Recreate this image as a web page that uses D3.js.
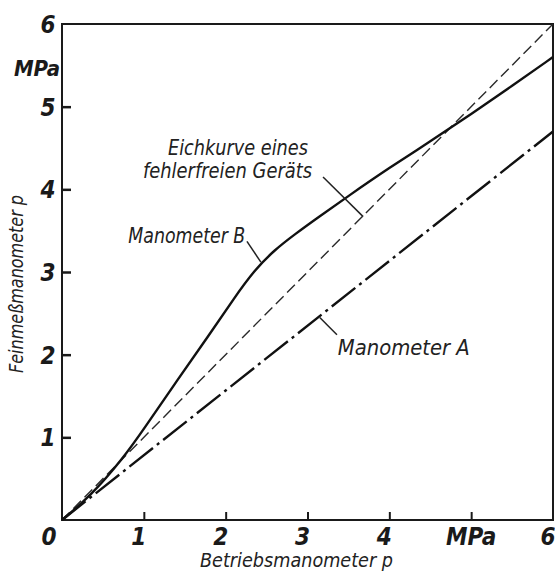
<!DOCTYPE html>
<html>
<head>
<meta charset="utf-8">
<script src="https://cdn.jsdelivr.net/npm/d3@7"></script>
<style>
  body { margin: 0; background: #ffffff; }
  svg { display: block; }
  .tick-label { font-family: "Liberation Sans Narrow", "DejaVu Sans Condensed", sans-serif; font-weight: bold; font-style: italic; fill: #1a1a1a; }
  .note { font-family: "Liberation Sans Narrow", "DejaVu Sans Condensed", sans-serif; font-style: italic; fill: #222222; }
</style>
</head>
<body>
<div id="chart"></div>
<script>

// Betriebsmanometer p (x) -> Feinmessmanometer p (y), MPa
var xTicks = [0, 1, 2, 3, 4, 5, 6];
var xTickLabels = ["0", "1", "2", "3", "4", "MPa", "6"];
var yTicks = [1, 2, 3, 4, 5, 6];
var yTickLabels = ["1", "2", "3", "4", "5", "6"];

var betriebB = [0, 0.35, 0.75, 1.0, 1.4, 1.8, 2.1, 2.35, 2.6, 2.85, 3.1, 3.5, 4.0, 4.5, 5.0, 5.5, 6.0];
var manometerB = [0, 0.29, 0.75, 1.1, 1.68, 2.24, 2.68, 3.02, 3.27, 3.46, 3.64, 3.92, 4.26, 4.58, 4.91, 5.25, 5.6];

var betriebA = [0, 6];
var manometerA = [0, 4.7];

var betriebIdeal = [0, 6];
var eichkurve = [0, 6];

var width = 555, height = 574;

// scales: plot box from the axis frame of the drawing
var xScale = d3.scaleLinear()
                .domain([0, 6])
                .range([62, 553]);
var yScale = d3.scaleLinear()
                .domain([0, 6])
                .range([520, 24]);  // y flipped

var svg = d3.select("#chart")
    .append("svg")
    .attr("width", width)
    .attr("height", height);

// frame
svg.append("rect")
    .attr("x", xScale(0))
    .attr("y", yScale(6))
    .attr("width", xScale(6) - xScale(0))
    .attr("height", yScale(0) - yScale(6))
    .attr("fill", "none")
    .attr("stroke", "#1a1a1a")
    .attr("stroke-width", 2);

// x ticks point inward
var xAxis = svg.append("g")
    .attr("transform", "translate(0," + yScale(0) + ")")
    .call(d3.axisTop(xScale).tickValues(xTicks.slice(1, 6)).tickSize(8).tickFormat(""));
xAxis.select(".domain").remove();
xAxis.selectAll("line").attr("stroke", "#1a1a1a").attr("stroke-width", 2);

var yAxis = svg.append("g")
    .attr("transform", "translate(" + xScale(0) + ",0)")
    .call(d3.axisRight(yScale).tickValues(yTicks.slice(0, 5)).tickSize(9).tickFormat(""));
yAxis.select(".domain").remove();
yAxis.selectAll("line").attr("stroke", "#1a1a1a").attr("stroke-width", 2.5);

// x tick labels
svg.append("g")
    .selectAll("text")
    .data(xTicks)
    .enter()
    .append("text")
    .attr("class", "tick-label")
    .attr("x", function(d, i) {
        if (i === 0) { return xScale(d) - 13; }
        if (xTickLabels[i] === "MPa") { return xScale(d); }
        return xScale(d) - 5;
    })
    .attr("y", yScale(0) + 25)
    .attr("text-anchor", "middle")
    .style("font-size", "24px")
    .text(function(d, i) { return xTickLabels[i]; });

// y tick labels
svg.append("g")
    .selectAll("text")
    .data(yTicks)
    .enter()
    .append("text")
    .attr("class", "tick-label")
    .attr("x", xScale(0) - 14)
    .attr("y", function(d) { return yScale(d) + 9; })
    .attr("text-anchor", "middle")
    .style("font-size", "24px")
    .text(function(d, i) { return yTickLabels[i]; });

svg.append("text")
    .attr("class", "tick-label")
    .attr("x", 37)
    .attr("y", 76)
    .attr("text-anchor", "middle")
    .style("font-size", "22px")
    .text("MPa");

// axis titles
svg.append("text")
    .attr("class", "note")
    .attr("x", 200)
    .attr("y", 567)
    .attr("textLength", 193)
    .attr("lengthAdjust", "spacingAndGlyphs")
    .style("font-size", "19px")
    .text("Betriebsmanometer p");

svg.append("text")
    .attr("class", "note")
    .attr("transform", "translate(23,373) rotate(-90)")
    .attr("textLength", 178)
    .attr("lengthAdjust", "spacingAndGlyphs")
    .style("font-size", "19px")
    .text("Feinmeßmanometer p");

// curves
var line = d3.line()
    .x(function(d) { return xScale(d[0]); })
    .y(function(d) { return yScale(d[1]); });

svg.append("path")
    .datum(betriebIdeal.map(function(v, i) { return [v, eichkurve[i]]; }))
    .attr("d", line)
    .attr("fill", "none")
    .attr("stroke", "#2a2a2a")
    .attr("stroke-width", 1.4)
    .attr("stroke-dasharray", "11,5");

svg.append("path")
    .datum(betriebA.map(function(v, i) { return [v, manometerA[i]]; }))
    .attr("d", line)
    .attr("fill", "none")
    .attr("stroke", "#111111")
    .attr("stroke-width", 2.4)
    .attr("stroke-dasharray", "30,5,3,5");

svg.append("path")
    .datum(betriebB.map(function(v, i) { return [v, manometerB[i]]; }))
    .attr("d", line.curve(d3.curveBasis))
    .attr("fill", "none")
    .attr("stroke", "#111111")
    .attr("stroke-width", 2.4);

// labels with leader lines (data units)
function leader(x1, y1, x2, y2) {
    svg.append("line")
        .attr("x1", xScale(x1)).attr("y1", yScale(y1))
        .attr("x2", xScale(x2)).attr("y2", yScale(y2))
        .attr("stroke", "#222222")
        .attr("stroke-width", 1.5);
}
function note(x, y, txt, len) {
    svg.append("text")
        .attr("class", "note")
        .attr("x", xScale(x))
        .attr("y", yScale(y))
        .attr("textLength", len)
        .attr("lengthAdjust", "spacingAndGlyphs")
        .style("font-size", "21px")
        .text(txt);
}

note(1.295, 4.415, "Eichkurve eines", 140);
note(0.99, 4.135, "fehlerfreien Geräts", 169);
leader(3.19, 4.15, 3.68, 3.67);

note(0.81, 3.35, "Manometer B", 117);
leader(2.26, 3.37, 2.43, 3.12);

note(3.37, 1.99, "Manometer A", 132);
leader(3.15, 2.45, 3.36, 2.24);

</script>
</body>
</html>
